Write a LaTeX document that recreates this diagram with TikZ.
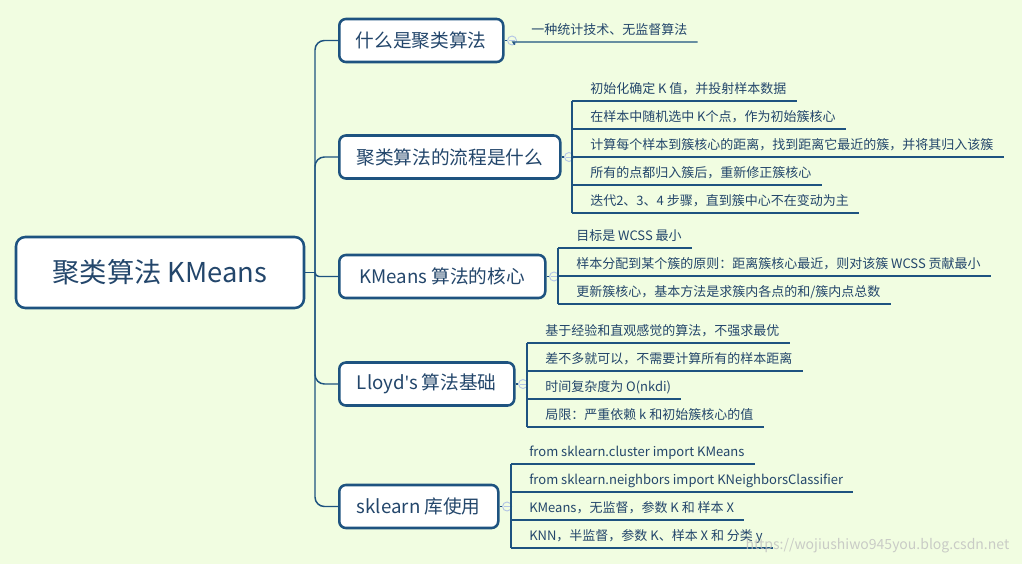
\documentclass[tikz,border=0pt]{standalone}
\usepackage{fontspec}
\setmainfont{Noto Sans CJK SC}
\newfontfamily\latinfont{Noto Sans}
\usetikzlibrary{positioning}
\definecolor{mapbg}{HTML}{F1FDE1}
\definecolor{mapline}{HTML}{1E5380}
\definecolor{mapink}{HTML}{23466B}
\definecolor{knobline}{HTML}{B4C6E6}
\tikzset{
    link/.style={draw=mapline, line width=1.1pt},
    rootbox/.style={
        draw=mapline, line width=1.9pt, fill=white, rounded corners=7pt,
        text=mapink, font=\fontsize{20.5pt}{24pt}\selectfont,
        minimum width=216pt, minimum height=53.25pt
    },
    topic/.style={
        draw=mapline, line width=1.9pt, fill=white, rounded corners=5pt,
        text=mapink, font=\fontsize{14pt}{17pt}\selectfont,
        minimum height=32.25pt, anchor=west
    },
    knob/.style={
        circle, draw=knobline, line width=0.7pt, fill=mapbg,
        minimum size=6.75pt, inner sep=0pt,
        path picture={
            \draw [knobline, line width=0.6pt]
            ([xshift=-2pt]path picture bounding box.center) --
            ([xshift=2pt]path picture bounding box.center);
        }
    },
    leaf/.style={
        anchor=south west, inner sep=0pt, text height=9pt, text depth=5.25pt,
        text=mapink, font=\fontsize{9.75pt}{12pt}\selectfont,
        execute at begin node=\hspace*{13.5pt},
        execute at end node=\hspace*{7.5pt}
    }
}

\begin{document}
\begin{tikzpicture}[x=0.75pt, y=-0.75pt]
    \path [use as bounding box, fill=mapbg] (0,0) rectangle (1022,564);

    % main topic and the trunk
    \node [rootbox] (root) at (160,272.5) {聚类算法 KMeans};
    \coordinate (hub) at (315,272.5);

    % branch boxes
    \node [topic, minimum width=123pt] (b1) at (338,40.5) {什么是聚类算法};
    \node [topic, minimum width=165.75pt] (b2) at (338,157) {聚类算法的流程是什么};
    \node [topic, minimum width=154.5pt] (b3) at (338,276.5) {KMeans 算法的核心};
    \node [topic, minimum width=131.25pt] (b4) at (338,384) {Lloyd{\latinfont\symbol{39}}s 算法基础};
    \node [topic, minimum width=119.25pt] (b5) at (338,506.5) {sklearn 库使用};

    \draw [link] (root.east) -- (hub);
    \draw [link, rounded corners=7] (hub) |- (b1.west);
    \draw [link, rounded corners=7] (hub) |- (b2.west);
    \draw [link, rounded corners=3] (hub) |- (b3.west);
    \draw [link, rounded corners=7] (hub) |- (b4.west);
    \draw [link, rounded corners=7] (hub) |- (b5.west);

    % collapse knobs
    \node [knob, right=1.9pt of b1] (k1) {};
    \node [knob, right=1.9pt of b2] (k2) {};
    \node [knob, right=1.9pt of b3] (k3) {};
    \node [knob, right=1.9pt of b4] (k4) {};
    \node [knob, right=1.9pt of b5] (k5) {};
    \foreach \i in {1,...,5}
        \draw [link] (b\i) -- (k\i);

    % leaves of branch 1
    \node [leaf] (l11) at (513,42) {一种统计技术、无监督算法};
    \draw [link] (k1) -- (l11.south west) -- (l11.south east);

    % leaves of branch 2
    \node [leaf] (l21) at (572,101) {初始化确定 K 值，并投射样本数据};
    \node [leaf] (l22) at (572,129) {在样本中随机选中 K个点，作为初始簇核心};
    \node [leaf] (l23) at (572,157) {计算每个样本到簇核心的距离，找到距离它最近的簇，并将其归入该簇};
    \node [leaf] (l24) at (572,185) {所有的点都归入簇后，重新修正簇核心};
    \node [leaf] (l25) at (572,213) {迭代2、3、4 步骤，直到簇中心不在变动为主};
    \draw [link] (k2) -- (k2 -| l23.south west);
    \draw [link] (l21.south west) -- (l25.south west);
    \foreach \i in {1,...,5}
        \draw [link] (l2\i.south west) -- (l2\i.south east);

    % leaves of branch 3
    \node [leaf] (l31) at (558,248) {目标是 WCSS 最小};
    \node [leaf] (l32) at (558,276) {样本分配到某个簇的原则：距离簇核心最近，则对该簇 WCSS 贡献最小};
    \node [leaf] (l33) at (558,304) {更新簇核心，基本方法是求簇内各点的和/簇内点总数};
    \draw [link] (k3) -- (k3 -| l32.south west);
    \draw [link] (l31.south west) -- (l33.south west);
    \foreach \i in {1,...,3}
        \draw [link] (l3\i.south west) -- (l3\i.south east);

    % leaves of branch 4
    \node [leaf] (l41) at (527,343) {基于经验和直观感觉的算法，不强求最优};
    \node [leaf] (l42) at (527,371) {差不多就可以，不需要计算所有的样本距离};
    \node [leaf] (l43) at (527,399) {时间复杂度为 O(nkdi)};
    \node [leaf] (l44) at (527,427) {局限：严重依赖 k 和初始簇核心的值};
    \draw [link] (k4) -- (k4 -| l41.south west);
    \draw [link] (l41.south west) -- (l44.south west);
    \foreach \i in {1,...,4}
        \draw [link] (l4\i.south west) -- (l4\i.south east);

    % leaves of branch 5
    \node [leaf] (l51) at (511,464) {from sklearn.cluster import KMeans};
    \node [leaf] (l52) at (511,492) {from sklearn.neighbors import KNeighborsClassifier};
    \node [leaf] (l53) at (511,520) {KMeans，无监督，参数 K 和 样本 X};
    \node [leaf] (l54) at (511,548) {KNN，半监督，参数 K、样本 X 和 分类 y};
    \draw [link] (k5) -- (k5 -| l51.south west);
    \draw [link] (l51.south west) -- (l54.south west);
    \foreach \i in {1,...,4}
        \draw [link] (l5\i.south west) -- (l5\i.south east);

    \node [text=black!25, opacity=0.8, font=\fontsize{10.5pt}{12pt}\selectfont,
        anchor=east] (mark) at (1014,546) {https://wojiushiwo945you.blog.csdn.net};
\end{tikzpicture}
\end{document}
